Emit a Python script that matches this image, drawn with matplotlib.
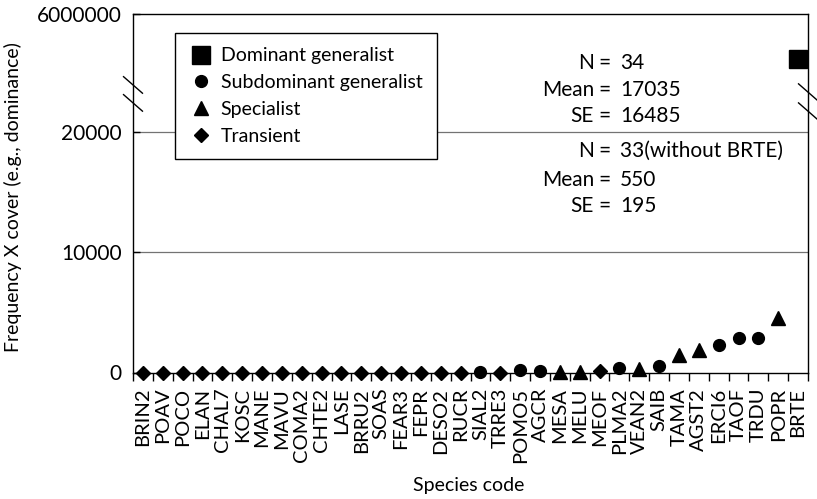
import numpy as np
import matplotlib
matplotlib.use('Agg')
import matplotlib.pyplot as plt
from matplotlib.lines import Line2D

plt.rcParams['font.family'] = ['Lato', 'DejaVu Sans']
plt.rcParams['font.size'] = 14

# Species ordered by frequency x cover
species = ['BRIN2', 'POAV', 'POCO', 'ELAN', 'CHAL7', 'KOSC', 'MANE', 'MAVU',
           'COMA2', 'CHTE2', 'LASE', 'BRRU2', 'SOAS', 'FEAR3', 'FEPR', 'DESO2',
           'RUCR', 'SIAL2', 'TRRE3', 'POMO5', 'AGCR', 'MESA', 'MELU', 'MEOF',
           'PLMA2', 'VEAN2', 'SAIB', 'TAMA', 'AGST2', 'ERCI6', 'TAOF', 'TRDU',
           'POPR', 'BRTE']
values = [0, 0, 0, 0, 0, 0, 0, 0,
          0, 0, 0, 0, 0, 0, 0, 0,
          0, 50, 0, 200, 150, 50, 50, 100,
          350, 250, 500, 1450, 1900, 2250, 2900, 2850,
          4500, 660000]
# T = transient, S = subdominant generalist, P = specialist, D = dominant generalist
groups = ['T'] * 17 + ['S', 'T', 'S', 'S', 'P', 'P', 'T',
                       'S', 'P', 'S', 'P', 'P', 'S', 'S', 'S',
                       'P', 'D']

group_names = {'D': 'Dominant generalist', 'S': 'Subdominant generalist',
               'P': 'Specialist', 'T': 'Transient'}
group_markers = {'D': ('s', 13), 'S': ('o', 8.5), 'P': ('^', 10), 'T': ('D', 7)}

y_ticks = [0, 10000, 20000, 6000000]
y_ticklabels = ['0', '10000', '20000', '6000000']

# broken axis: linear up to 20000, compressed log section above
BREAK = 20000.0
TOP = 6000000.0
SPAN = 9800.0


def fwd(v):
    v = np.asarray(v, dtype=float)
    lv = np.log10(np.clip(v, BREAK, None))
    upper = BREAK + (lv - np.log10(BREAK)) / (np.log10(TOP) - np.log10(BREAK)) * SPAN
    return np.where(v <= BREAK, v, upper)


def inv(u):
    u = np.asarray(u, dtype=float)
    frac = np.clip((u - BREAK) / SPAN, -1, 3)
    upper = 10 ** (np.log10(BREAK) + frac * (np.log10(TOP) - np.log10(BREAK)))
    return np.where(u <= BREAK, u, upper)


fig = plt.figure(figsize=(8.17, 4.99), dpi=100)
ax = fig.add_axes([133 / 817, 1 - 372.5 / 499, 675 / 817, 359 / 499])
ax.set_yscale('function', functions=(fwd, inv))

x = np.arange(len(species))
vals = np.array(values, dtype=float)
for g in ['D', 'S', 'P', 'T']:
    idx = [i for i, gg in enumerate(groups) if gg == g]
    m, ms = group_markers[g]
    ax.plot(x[idx], vals[idx], linestyle='none', marker=m, markersize=ms,
            color='black', clip_on=False, zorder=5)

ax.set_xlim(-0.5, len(species) - 0.5)
ax.set_ylim(0, TOP)

# gridlines
for yv in [10000, 20000]:
    ax.axhline(yv, color='0.45', lw=0.9, zorder=1)

ax.set_yticks(y_ticks)
ax.set_yticklabels(y_ticklabels)
ax.tick_params(axis='y', direction='in', length=5, width=1, pad=8, labelsize=15)
ax.yaxis.set_minor_locator(matplotlib.ticker.NullLocator())

ax.set_xticks(x)
ax.set_xticklabels(species, rotation=90, fontsize=14.5)
ax.tick_params(axis='x', which='major', length=0, pad=11)
ax.set_xticks(np.arange(len(species) + 1) - 0.5, minor=True)
ax.tick_params(axis='x', which='minor', direction='out', length=6, width=1)

for sp in ax.spines.values():
    sp.set_linewidth(1)

ax.set_ylabel('Frequency X cover (e.g., dominance)', fontsize=14)
ax.yaxis.set_label_coords(-0.164, 0.49)
ax.set_xlabel('Species code', fontsize=14)
ax.xaxis.set_label_coords(0.498, -0.291)

# axis break marks
dx, dy = 0.014, 0.023
for xs, ys in [(0, 0.801), (0, 0.751), (1, 0.781), (1, 0.728)]:
    ax.plot([xs - dx, xs + dx], [ys + dy, ys - dy], transform=ax.transAxes,
            color='black', lw=1, clip_on=False, zorder=6)

# legend
handles = []
for g in ['D', 'S', 'P', 'T']:
    m, ms = group_markers[g]
    handles.append(Line2D([], [], linestyle='none', marker=m, markersize=ms,
                          color='black', label=group_names[g]))
leg = ax.legend(handles=handles, loc='upper left', bbox_to_anchor=(0.062, 0.946),
                borderaxespad=0, frameon=True, fancybox=False, edgecolor='black',
                framealpha=1, fontsize=14, handletextpad=0.4, labelspacing=0.5,
                borderpad=0.75, handlelength=1.2)
leg.get_frame().set_linewidth(1)
leg.set_zorder(7)


# summary statistics, aligned on the equals sign
def px(xp, yp):
    return ((xp - 133) / 675, (372.5 - yp) / 359)


stats = [('N', '34', 63), ('Mean', '17035', 90), ('SE', '16485', 116),
         ('N', '33(without BRTE)', 151), ('Mean', '550', 180), ('SE', '195', 206)]
for lab, rest, yp in stats:
    ax.text(*px(594, yp), lab, transform=ax.transAxes, ha='right', va='center', fontsize=15)
    ax.text(*px(605, yp), '=', transform=ax.transAxes, ha='center', va='center', fontsize=15)
    ax.text(*px(620, yp), rest, transform=ax.transAxes, ha='left', va='center', fontsize=15)

fig.savefig('out.png', dpi=100)
